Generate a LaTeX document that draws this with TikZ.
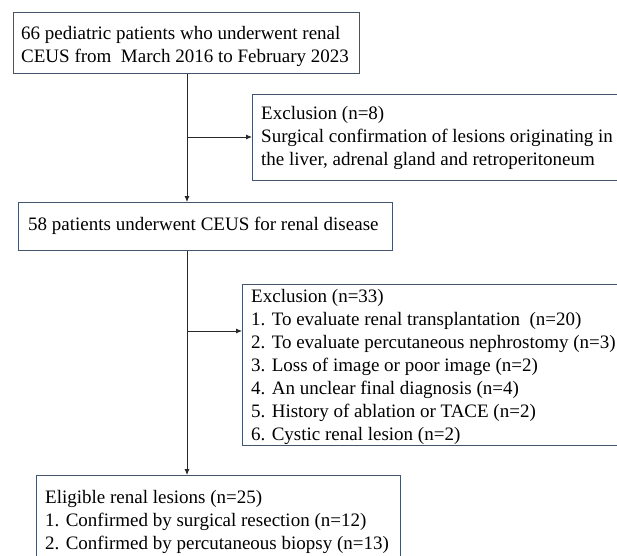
\documentclass[tikz,border=0pt]{standalone}
\usepackage{fontspec}
\setmainfont{Liberation Serif}
\usetikzlibrary{arrows.meta}
\definecolor{boxc}{RGB}{68,84,106}
\definecolor{linec}{RGB}{40,40,40}
\begin{document}
\begin{tikzpicture}[x=1pt,y=-1pt,
  box/.style={draw=boxc, line width=1.2pt, rectangle, inner sep=0pt, anchor=north west},
  % anchor at the baseline of the LAST line of the text
  txt/.style={anchor=base west, inner sep=0pt, align=left,
    font=\fontsize{19}{23}\selectfont},
  conn/.style={draw=linec, line width=0.8pt},
  arr/.style={conn, -{Latex[length=6pt,width=5pt]}}]
\useasboundingbox (0,0) rectangle (617,555);
% boxes
\node[box, minimum width=346pt, minimum height=61pt] (b1) at (13,12) {};
\node[box, minimum width=400pt, minimum height=86pt] (b2) at (252,94) {};
\node[box, minimum width=374pt, minimum height=48pt] (b3) at (18,202) {};
\node[box, minimum width=400pt, minimum height=161pt] (b4) at (242,284) {};
\node[box, minimum width=364pt, minimum height=100pt] (b5) at (36,475) {};
% texts
\node[txt] (t1) at (21,62) {66 pediatric patients who underwent renal\\CEUS from\ \ March 2016 to February 2023};
\node[txt] (t2) at (261,165) {Exclusion (n=8)\\Surgical confirmation of lesions originating in\\the liver, adrenal gland and retroperitoneum};
\node[txt] (t3) at (28,230) {58 patients underwent CEUS for renal disease};
\node[txt] (t4) at (251,440) {Exclusion (n=33)\\1. To evaluate renal transplantation\ \ (n=20)\\2. To evaluate percutaneous nephrostomy (n=3)\\3. Loss of image or poor image (n=2)\\4. An unclear final diagnosis (n=4)\\5. History of ablation or TACE (n=2)\\6. Cystic renal lesion (n=2)};
\node[txt] (t5) at (45,549) {Eligible renal lesions (n=25)\\1. Confirmed by surgical resection (n=12)\\2. Confirmed by percutaneous biopsy (n=13)};
% connectors
\coordinate (s1) at (187,137);
\coordinate (s2) at (187,331);
\draw[arr] (b1.south -| s1) -- (b3.north -| s1);
\draw[arr] (s1) -- (s1 -| b2.west);
\draw[arr] (b3.south -| s2) -- (b5.north -| s2);
\draw[arr] (s2) -- (s2 -| b4.west);
\end{tikzpicture}
\end{document}
